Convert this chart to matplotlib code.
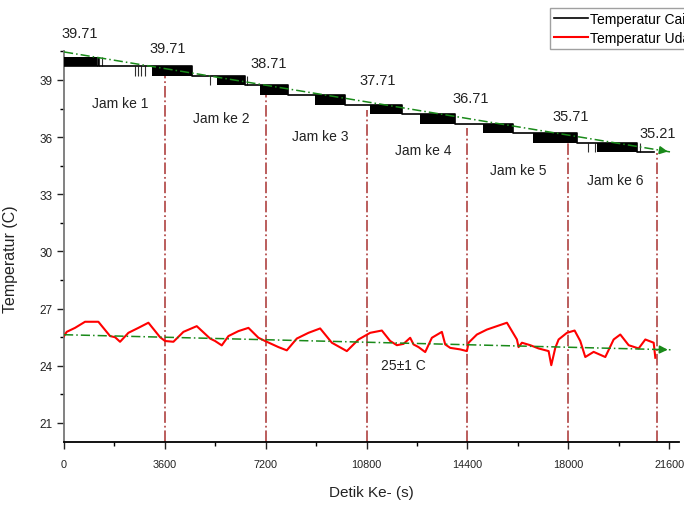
import matplotlib
matplotlib.use("Agg")
import matplotlib.pyplot as plt

plt.rcParams['font.family'] = ['Liberation Sans', 'DejaVu Sans']

# liquid temperature: quantised staircase (0.5 C steps)
# steady level after each block, drawn as steps-post
cair_t = [0, 4571, 6464, 8000, 10036, 12071, 13964, 16035, 18320, 20464, 21070]
cair_v = [39.71, 39.21, 38.71, 38.21, 37.71, 37.21, 36.71, 36.21, 35.71, 35.21, 35.21]

# blocks where the sensor flickers between two levels
blk_start = [0, 3143, 5465, 7000, 8964, 10928, 12714, 14964, 16750, 19035]
blk_end = [1290, 4571, 6464, 8000, 10036, 12071, 13964, 16035, 18320, 20464]
blk_low = [39.71, 39.21, 38.71, 38.21, 37.71, 37.21, 36.71, 36.21, 35.71, 35.21]
blk_high = [40.21, 39.71, 39.21, 38.71, 38.21, 37.71, 37.21, 36.71, 36.21, 35.71]

# isolated flicker spikes
spk_t = [1180, 1260, 1350, 2540, 2640, 2760, 2900, 5200, 6530, 18710, 18960, 20570]
spk_low = [39.71, 39.71, 39.71, 39.21, 39.21, 39.21, 39.21, 38.71, 38.71, 35.21, 35.21, 35.21]
spk_high = [40.21, 40.21, 40.21, 39.71, 39.71, 39.71, 39.71, 39.21, 39.21, 35.71, 35.71, 35.71]

# air temperature
udara_t = [0, 95, 393, 750, 870, 1226, 1643, 1821, 2000, 2298, 2655, 3012, 3428, 3607,
           3905, 4262, 4738, 5214, 5393, 5631, 5869, 6226, 6583, 6940, 7178, 7655,
           7952, 8310, 8726, 9143, 9560, 10095, 10512, 10928, 11345, 11643, 11881,
           12119, 12357, 12476, 12655, 12893, 13131, 13488, 13607, 13786, 14143,
           14381, 14440, 14738, 15095, 15452, 15810, 16167, 16226, 16345, 16643,
           16940, 17298, 17393, 17536, 17655, 17952, 18226, 18428, 18607, 18905,
           19321, 19619, 19857, 20155, 20512, 20750, 21048, 21107]
udara_v = [25.56, 25.78, 25.99, 26.31, 26.31, 26.31, 25.56, 25.50, 25.26, 25.73, 25.99,
           26.26, 25.50, 25.30, 25.26, 25.78, 26.08, 25.43, 25.30, 25.07, 25.56, 25.82,
           25.99, 25.47, 25.30, 24.98, 24.81, 25.43, 25.73, 25.96, 25.21, 24.77, 25.38,
           25.73, 25.85, 25.30, 25.08, 25.15, 25.47, 25.12, 24.98, 24.72, 25.47, 25.78,
           25.12, 24.94, 24.86, 24.77, 25.21, 25.64, 25.90, 26.08, 26.26, 25.38, 24.98,
           25.21, 25.08, 24.91, 24.77, 24.03, 24.94, 25.38, 25.73, 25.85, 25.30, 24.46,
           24.73, 24.46, 25.38, 25.64, 25.08, 24.91, 25.38, 25.21, 24.42]

# trend arrows
trend_t = [0, 21650]
trend_cair = [40.47, 35.22]
trend_udara = [25.63, 24.84]

# hour markers
jam_t = [3600, 7200, 10800, 14400, 18000, 21150]
jam_top = [39.37, 38.21, 37.43, 36.48, 35.69, 35.17]

# labels on the chart
val_labels = ['39.71', '39.71', '38.71', '37.71', '36.71', '35.71', '35.21']
val_x = [570, 3714, 7320, 11180, 14500, 18070, 21180]
val_y = [41.47, 40.68, 39.89, 39.0, 38.06, 37.11, 36.22]
jam_labels = ['Jam ke 1', 'Jam ke 2', 'Jam ke 3', 'Jam ke 4', 'Jam ke 5', 'Jam ke 6']
jam_x = [2000, 5607, 9143, 12820, 16210, 19680]
jam_y = [37.79, 37.0, 36.06, 35.33, 34.28, 33.75]

xticks = [0, 3600, 7200, 10800, 14400, 18000, 21600]
xminor = [1800, 5400, 9000, 12600, 16200, 19800]
yticks = [21, 24, 27, 30, 33, 36, 39]
yminor = [22.5, 25.5, 28.5, 31.5, 34.5, 37.5, 40.5]

fig = plt.figure(figsize=(6.84, 5.06), dpi=100)
ax = fig.add_axes([0.0936, 0.1245, 0.899, 0.772])

# hour lines
ax.vlines(jam_t, 20, jam_top, colors='#b5504f', linestyles='dashdot', lw=1.3, zorder=1)

# liquid temperature
for s, e, lo, hi in zip(blk_start, blk_end, blk_low, blk_high):
    ax.fill_between([s, e], [lo, lo], [hi, hi], color='black', lw=0, zorder=3)
ax.vlines(spk_t, spk_low, spk_high, colors='#303030', lw=0.8, zorder=3)
l1, = ax.plot(cair_t, cair_v, drawstyle='steps-post', color='black', lw=1.2, zorder=3,
              label='Temperatur Cairan')

# air temperature
l2, = ax.plot(udara_t, udara_v, color='red', lw=1.5, zorder=3, label='Temperatur Udara')

# trend lines with arrow heads
for tv in (trend_cair, trend_udara):
    ax.plot(trend_t, tv, color='#1a8a1a', ls=(0, (6, 2, 1, 2)), lw=1.1, zorder=4)
    ax.annotate('', xy=(trend_t[1], tv[1]), xytext=(trend_t[1] - 300, tv[1] + (tv[0] - tv[1]) * 300 / trend_t[1]),
                arrowprops=dict(arrowstyle='-|>', color='#1a8a1a', lw=1.1, mutation_scale=12), zorder=4)

for s, x, y in zip(val_labels, val_x, val_y):
    ax.text(x, y, s, ha='center', va='center', fontsize=10.5, color='#222222')
for s, x, y in zip(jam_labels, jam_x, jam_y):
    ax.text(x, y, s, ha='center', va='center', fontsize=10, color='#222222')
ax.text(12110, 24.05, '25\u00b11 C', ha='center', va='center', fontsize=10, color='#222222')

ax.set_xlim(0, 21950)
ax.set_ylim(20, 40.5)
ax.set_xticks(xticks)
ax.set_xticks(xminor, minor=True)
ax.set_yticks(yticks)
ax.set_yticks(yminor, minor=True)
ax.tick_params(axis='both', which='major', direction='out', length=5, width=1, labelsize=8.5, colors='#222222')
ax.tick_params(axis='x', which='major', pad=7, labelsize=7.8)
ax.tick_params(axis='both', which='minor', direction='out', length=3, width=1)

for side in ('top', 'right'):
    ax.spines[side].set_visible(False)
ax.spines['left'].set_color('#777777')
ax.spines['left'].set_linewidth(1.3)
ax.spines['bottom'].set_linewidth(1.3)

ax.set_xlabel('Detik Ke- (s)', fontsize=11, color='#222222')
ax.xaxis.set_label_coords(0.5, -0.11)
ax.set_ylabel('Temperatur (C)', fontsize=11.5, color='#222222')
ax.yaxis.set_label_coords(-0.075, 0.47)

# legend runs past the right edge, as in the source image
leg = fig.legend(handles=[l1, l2], loc='upper left', bbox_to_anchor=(550 / 684, 1 - 9 / 506),
                 fontsize=10, frameon=True, fancybox=False, handlelength=2.4, borderpad=0.3,
                 labelspacing=0.35, handletextpad=0.2, borderaxespad=0)
leg.get_frame().set_edgecolor('#888888')
leg.get_frame().set_linewidth(1.0)

fig.savefig('out.png', dpi=100)
